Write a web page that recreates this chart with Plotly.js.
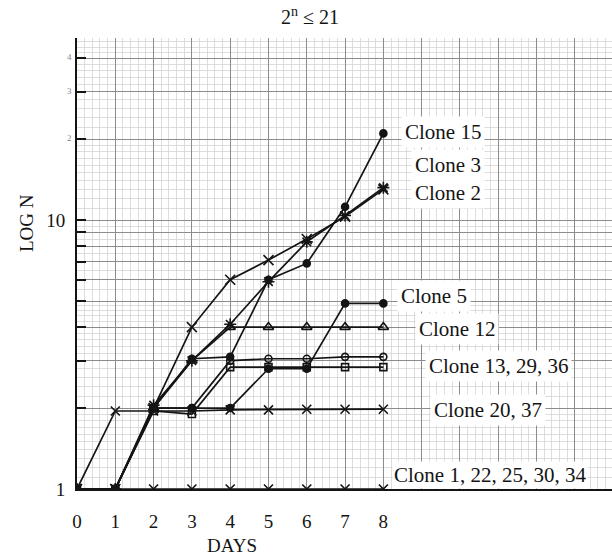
<!DOCTYPE html>
<html>
<head>
<meta charset="utf-8">
<script src="https://cdn.plot.ly/plotly-3.0.1.min.js"></script>
<style>html,body{margin:0;padding:0;background:#fff;}#chart{width:612px;height:555px;}</style>
</head>
<body>
<div id="chart"></div>
<script>
// ---- data (days 0..8, N on log scale) ----
const days = [0, 1, 2, 3, 4, 5, 6, 7, 8];
const xTickVals = [0, 1, 2, 3, 4, 5, 6, 7, 8, 9, 10, 11, 12, 13, 14];
const xTickText = ['0', '1', '2', '3', '4', '5', '6', '7', '8', '', '', '', '', '', ''];
const yTickVals = [1, 2, 3, 4, 5, 6, 7, 8, 9, 10, 20, 30, 40];
const yTickText = ['1', '', '', '', '', '', '', '', '', '10', '', '', ''];

const clone15 = [1, 1, 2, 3.05, 3.1, 6.0, 6.9, 11.2, 21];
const clone3 = [1, 1, 2.05, 3.0, 4.1, 5.9, 8.3, 10.4, 13.2];
const clone2 = [1, 1, 2, 4, 6, 7.1, 8.5, 10.3, 13];
const clone5 = [1, 1, 2, 2, 2, 2.8, 2.8, 4.9, 4.9];
const clone12 = [1, 1, 2, 3, 4, 4, 4, 4, 4];
const clone13a = [1, 1, 2, 2, 3.0, 3.05, 3.05, 3.1, 3.1];
const clone13b = [1, 1, 1.95, 1.9, 2.84, 2.84, 2.84, 2.84, 2.84];
const clone20 = [1, 1.95, 1.95, 1.95, 1.97, 1.97, 1.98, 1.98, 1.98];
const clone1 = [1, 1, 1, 1, 1, 1, 1, 1, 1];

const labels = [
  {text: 'Clone 15', px: 401, py: 132, pad: 3},
  {text: 'Clone 3', px: 411, py: 165, pad: 3},
  {text: 'Clone 2', px: 411, py: 193, pad: 3},
  {text: 'Clone 5', px: 397, py: 296, pad: 3},
  {text: 'Clone 12', px: 415, py: 329, pad: 3},
  {text: 'Clone 13, 29, 36', px: 425, py: 366, pad: 3},
  {text: 'Clone 20, 37', px: 430, py: 410, pad: 3},
  {text: 'Clone 1, 22, 25, 30, 34', px: 392, py: 475, pad: 1}
];

// ---- layout helpers ----
const L = 77, R = 612, T = 38, B = 489;
const xp = px => (px - L) / (R - L);
const yp = py => (B - py) / (B - T);
const serif = 'Liberation Serif, Times New Roman, serif';
const ink = '#141414';

function series(y, symbol, size) {
  return {
    x: days, y: y, type: 'scatter', mode: 'lines+markers',
    line: {color: ink, width: 1.7},
    marker: {symbol: symbol, size: size, color: ink, line: {color: ink, width: 1.6}},
    hoverinfo: 'skip'
  };
}

const traces = [
  series(clone1, 'x-thin-open', 9),
  series(clone20, 'x-thin-open', 9),
  series(clone13b, 'square-open', 7),
  series(clone13a, 'circle-open', 7),
  series(clone12, 'triangle-up-open', 9),
  series(clone5, 'circle', 7),
  series(clone2, 'x-thin-open', 10),
  series(clone3, 'asterisk-open', 10),
  series(clone15, 'circle', 7)
];

// fine semi-log graph-paper lines
const fineY = [];
for (let v = 1.1; v < 2; v += 0.1) fineY.push(+v.toFixed(2));
for (let v = 2.2; v < 5; v += 0.2) fineY.push(+v.toFixed(2));
for (let v = 5.5; v < 10; v += 0.5) fineY.push(+v.toFixed(2));
for (let v = 11; v < 20; v += 1) fineY.push(v);
for (let v = 22; v < 48; v += 2) if (v % 10) fineY.push(v);

const annotations = labels.map(l => ({
  text: l.text, xref: 'paper', yref: 'paper', x: xp(l.px), y: yp(l.py),
  xanchor: 'left', yanchor: 'middle', showarrow: false,
  bgcolor: '#ffffff', borderpad: l.pad,
  font: {family: serif, size: 21, color: ink}
}));
annotations.push({
  text: 'DAYS', xref: 'paper', yref: 'paper', x: xp(232), y: yp(545),
  xanchor: 'center', yanchor: 'middle', showarrow: false,
  font: {family: serif, size: 19, color: ink}
});
annotations.push({
  text: 'LOG N', xref: 'paper', yref: 'paper', x: xp(27), y: yp(223),
  xanchor: 'center', yanchor: 'middle', showarrow: false, textangle: -90,
  font: {family: serif, size: 19, color: ink}
});
[['4', 57], ['3', 91], ['2', 138]].forEach(([t, py]) => annotations.push({
  text: t, xref: 'paper', yref: 'paper', x: xp(74), y: yp(py),
  xanchor: 'right', yanchor: 'middle', showarrow: false,
  font: {family: serif, size: 9, color: '#888'}
}));

const layout = {
  width: 612, height: 555,
  margin: {l: L, r: 612 - R, t: T, b: 555 - B, pad: 0},
  paper_bgcolor: '#ffffff', plot_bgcolor: '#ffffff',
  showlegend: false,
  title: {
    text: '2<sup>n</sup> ≤ 21', xref: 'container', yref: 'container',
    x: 310 / 612, y: 1 - 17 / 555, xanchor: 'center', yanchor: 'middle',
    font: {family: serif, size: 20, color: ink}
  },
  xaxis: {
    range: [0, 13.97], tickmode: 'array', tickvals: xTickVals, ticktext: xTickText,
    showgrid: true, gridcolor: '#8c8c8c', gridwidth: 1,
    minor: {dtick: 0.2, tick0: 0, showgrid: true, gridcolor: '#cfcfcf', gridwidth: 0.7, ticks: ''},
    zeroline: false, showline: true, linecolor: ink, linewidth: 2,
    ticks: '', ticklabelstandoff: 14,
    tickfont: {family: serif, size: 19, color: ink}
  },
  yaxis: {
    type: 'log', range: [0, 1.677], tickmode: 'array', tickvals: yTickVals, ticktext: yTickText,
    showgrid: true, gridcolor: '#8c8c8c', gridwidth: 1,
    minor: {tickmode: 'array', tickvals: fineY, showgrid: true, gridcolor: '#cfcfcf', gridwidth: 0.7, ticks: ''},
    zeroline: false, showline: true, linecolor: ink, linewidth: 2,
    ticks: 'inside', ticklen: 9, tickwidth: 2, tickcolor: ink, ticklabelstandoff: 6,
    tickfont: {family: serif, size: 19, color: ink}
  },
  annotations: annotations
};

Plotly.newPlot('chart', traces, layout, {staticPlot: true, displayModeBar: false});
</script>
</body>
</html>
